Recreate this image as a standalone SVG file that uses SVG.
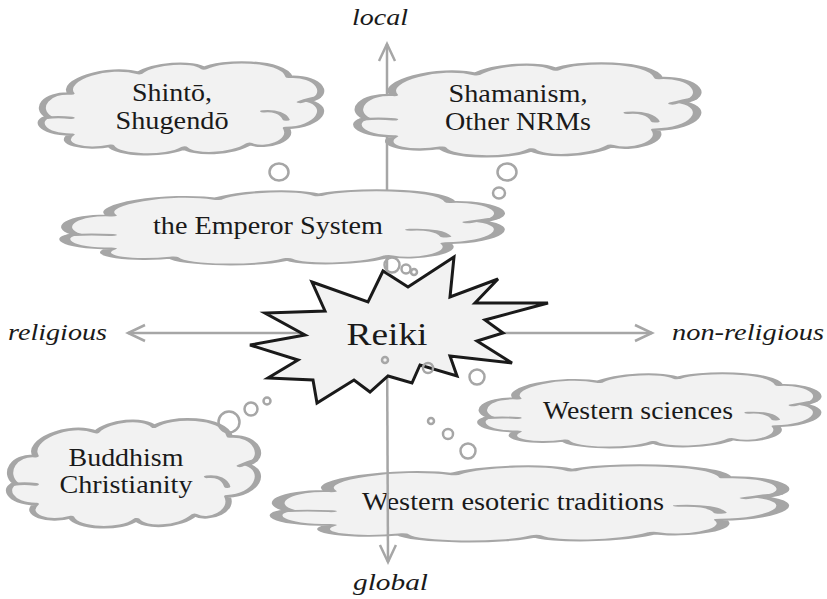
<svg xmlns="http://www.w3.org/2000/svg" width="827" height="599" viewBox="0 0 827 599">
<style>
.cloud{fill:#f2f2f2;stroke:#a6a6a6;stroke-width:2.5;stroke-linejoin:round;}
.inner{fill:none;stroke:#a6a6a6;stroke-width:2.5;stroke-linecap:round;}
.t{font-family:"Liberation Serif","Times New Roman",serif;font-size:25px;fill:#1a1a1a;text-anchor:middle;}
.big{font-size:26px;}
.axl{font-family:"Liberation Serif","Times New Roman",serif;font-size:24px;font-style:italic;fill:#1a1a1a;}
.axis{fill:none;stroke:#a6a6a6;stroke-width:2.5;}
.bub{fill:none;stroke:#a6a6a6;stroke-width:2.5;}
.star{fill:#f2f2f2;stroke:#1a1a1a;stroke-width:3;stroke-linejoin:miter;}
</style>
<defs>
<marker id="arr" markerUnits="userSpaceOnUse" markerWidth="24" markerHeight="24" viewBox="-20 -10 24 20" refX="0" refY="0" orient="auto">
<path d="M-17,-8 L0,0 L-17,8" fill="none" stroke="#a6a6a6" stroke-width="2.5"/>
</marker>
<path id="cloudShape" d="M11,34 C7,20 24,2 35,12 C40,1 54,-2 58,7 C64,-3 86,-3 88,16 C99,14 103,36 95,42 C103,48 99,70 87,71 C90,84 80,95 74,88 C68,100 54,101 51,92 C45,103 27,101 25,90 C16,96 6,88 11,78 C0,78 -2,62 3,59 C-2,50 2,32 11,34 Z"/>
<path id="cloudInner" d="M2,60 C5,59 8,59 11,60 M79,53 C83,52 86,55 87,62 M92,43 C94,41 96,39 98,38"/>
</defs>

<g id="western-esoteric">
<g transform="translate(274,465) scale(5.13,0.77)">
<use href="#cloudShape" class="cloud" style="vector-effect:non-scaling-stroke"/>
<use href="#cloudInner" class="inner" style="vector-effect:non-scaling-stroke"/>
</g>
<text class="t" x="513" y="510" textLength="302" lengthAdjust="spacingAndGlyphs">Western esoteric traditions</text>
</g>

<g id="connectors">
<line class="axis" x1="387" y1="330" x2="387" y2="44" marker-end="url(#arr)"/>
<line class="axis" x1="387" y1="330" x2="388" y2="562" marker-end="url(#arr)"/>
<line class="axis" x1="390" y1="333" x2="128" y2="333" marker-end="url(#arr)"/>
<line class="axis" x1="390" y1="333" x2="652" y2="333" marker-end="url(#arr)"/>
</g>

<g id="shinto">
<g transform="translate(40,62) scale(2.83,0.93)">
<use href="#cloudShape" class="cloud" style="vector-effect:non-scaling-stroke"/>
<use href="#cloudInner" class="inner" style="vector-effect:non-scaling-stroke"/>
</g>
<text class="t big" x="172" y="101" textLength="80" lengthAdjust="spacingAndGlyphs">Shintō,</text>
<text class="t big" x="172" y="129" textLength="113" lengthAdjust="spacingAndGlyphs">Shugendō</text>
</g>

<g id="shamanism">
<g transform="translate(356,63) scale(3.44,0.94)">
<use href="#cloudShape" class="cloud" style="vector-effect:non-scaling-stroke"/>
<use href="#cloudInner" class="inner" style="vector-effect:non-scaling-stroke"/>
</g>
<text class="t big" x="518" y="102" textLength="139" lengthAdjust="spacingAndGlyphs">Shamanism,</text>
<text class="t big" x="518" y="130" textLength="146" lengthAdjust="spacingAndGlyphs">Other NRMs</text>
</g>

<g id="emperor">
<g transform="translate(63,190) scale(4.40,0.75)">
<use href="#cloudShape" class="cloud" style="vector-effect:non-scaling-stroke"/>
<use href="#cloudInner" class="inner" style="vector-effect:non-scaling-stroke"/>
</g>
<text class="t" x="268" y="234" textLength="230" lengthAdjust="spacingAndGlyphs">the Emperor System</text>
</g>

<g id="buddhism">
<g transform="translate(8,419) scale(2.52,1.09)">
<use href="#cloudShape" class="cloud" style="vector-effect:non-scaling-stroke"/>
<use href="#cloudInner" class="inner" style="vector-effect:non-scaling-stroke"/>
</g>
<text class="t" x="126" y="466" textLength="115" lengthAdjust="spacingAndGlyphs">Buddhism</text>
<text class="t" x="126" y="493" textLength="133" lengthAdjust="spacingAndGlyphs">Christianity</text>
</g>

<g id="western-sciences">
<g transform="translate(480,373) scale(3.40,0.75)">
<use href="#cloudShape" class="cloud" style="vector-effect:non-scaling-stroke"/>
<use href="#cloudInner" class="inner" style="vector-effect:non-scaling-stroke"/>
</g>
<text class="t" x="638" y="419" textLength="190" lengthAdjust="spacingAndGlyphs">Western sciences</text>
</g>

<g id="reiki">
<polygon class="star" points="312,282 368,302 383,271 408,287 454,257 450,297 498,279 475,303 548,303 485,320 503,333 477,341 512,363 450,356 457,376 420,365 412,383 388,376 370,392 354,380 317,403 313,380 268,378 298,360 250,345 305,335 265,313 325,311"/>
<text class="t" x="387" y="345" style="font-size:32px" textLength="81" lengthAdjust="spacingAndGlyphs">Reiki</text>
</g>

<g id="bubbles">
<ellipse class="bub" cx="279" cy="172" rx="9.5" ry="8.5"/>
<ellipse class="bub" cx="507" cy="172" rx="9.5" ry="8.5"/>
<ellipse class="bub" cx="499" cy="193" rx="6" ry="5.5"/>
<circle class="bub" cx="392" cy="265" r="7.5"/>
<circle class="bub" cx="406" cy="269" r="4.5"/>
<circle class="bub" cx="414" cy="272" r="3"/>
<circle class="bub" cx="385" cy="360" r="3"/>
<circle class="bub" cx="428" cy="368" r="5"/>
<circle class="bub" cx="477" cy="377" r="7.5"/>
<circle class="bub" cx="431" cy="421" r="3"/>
<circle class="bub" cx="448" cy="434" r="5"/>
<circle class="bub" cx="468" cy="451" r="7.5"/>
<circle class="bub" cx="267" cy="401" r="3.5"/>
<circle class="bub" cx="251" cy="409" r="6.5"/>
<circle class="bub" cx="229" cy="422" r="10.5"/>
</g>

<g id="axis-labels">
<text id="local" class="axl" x="352" y="25" textLength="56" lengthAdjust="spacingAndGlyphs">local</text>
<text id="global" class="axl" x="353" y="590" textLength="75" lengthAdjust="spacingAndGlyphs">global</text>
<text id="religious" class="axl" x="8" y="340" textLength="99" lengthAdjust="spacingAndGlyphs">religious</text>
<text id="non-religious" class="axl" x="672" y="340" textLength="152" lengthAdjust="spacingAndGlyphs">non-religious</text>
</g>
</svg>
